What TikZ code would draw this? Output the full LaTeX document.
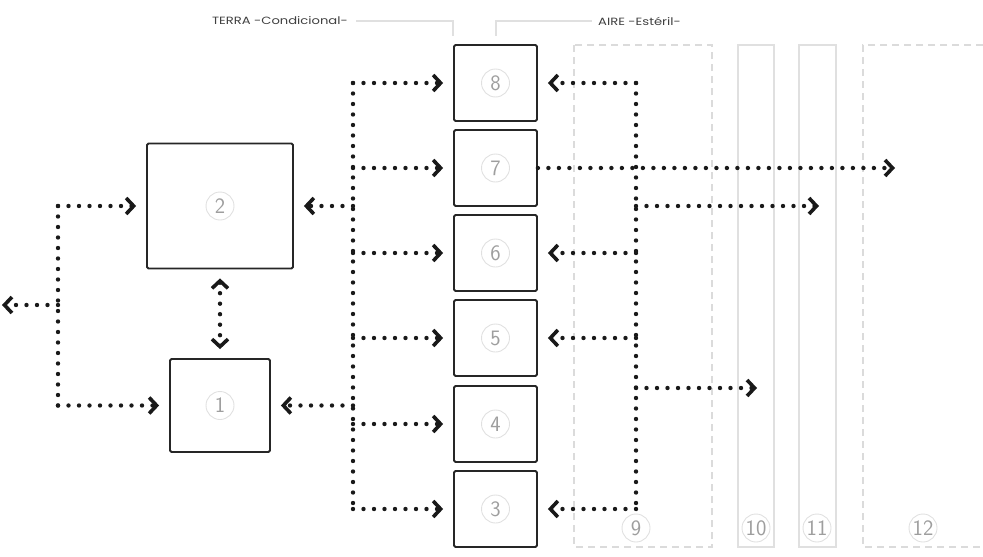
\documentclass[tikz,border=0pt]{standalone}
\usepackage{fontspec}
\usetikzlibrary{arrows.meta}
\newfontfamily\labfont{Poppins}[FakeStretch=1.25]
\tikzset{
  box/.style={draw=black!85, line width=1.8pt, rounded corners=1.5pt, inner sep=0pt},
  numc/.style={circle, draw=black!12, line width=0.9pt, text=black!38, minimum size=28pt, inner sep=0pt, font=\sffamily\fontsize{22}{22}\selectfont},
  dots/.style={line width=4.4pt, line cap=round, dash pattern=on 0pt off 10.5pt, black!90},
  tip/.tip={Straight Barb[length=7.5pt,width=16pt,line width=3.6pt]},
  arr/.style={dots, -tip, shorten >=10pt},
  darr/.style={dots, tip-tip, shorten >=9pt, shorten <=9pt},
  zone/.style={draw=black!14, line width=1.2pt, dash pattern=on 7pt off 5pt},
  slim/.style={draw=black!12, line width=1.2pt},
  toplab/.style={text=black!75, inner sep=0pt, font=\labfont\fontsize{10.5}{10.5}\selectfont}
}
\begin{document}
\begin{tikzpicture}[x=1pt,y=-1pt]
\useasboundingbox (0,0) rectangle (983,557);
% zones
\draw[zone] (574,45) rectangle (712,547);
\draw[slim] (738,45) rectangle (774,547);
\draw[slim] (799,45) rectangle (836,547);
\draw[zone] (995,45) -- (863,45) -- (863,547) -- (995,547);
\node[numc] (n9) at (636,528) {9};
\node[numc] (n10) at (756,528) {10};
\node[numc] (n11) at (817,528) {11};
\node[numc] (n12) at (923,528) {12};
% boxes
\node[box, minimum width=83pt, minimum height=76pt] (b8) at (495.5,83) {};
\node[box, minimum width=83pt, minimum height=76pt] (b7) at (495.5,168) {};
\node[box, minimum width=83pt, minimum height=76pt] (b6) at (495.5,253) {};
\node[box, minimum width=83pt, minimum height=76pt] (b5) at (495.5,338) {};
\node[box, minimum width=83pt, minimum height=76pt] (b4) at (495.5,424) {};
\node[box, minimum width=83pt, minimum height=76pt] (b3) at (495.5,509) {};
\node[box, minimum width=146pt, minimum height=125pt] (b2) at (220,206) {};
\node[box, minimum width=100pt, minimum height=93pt] (b1) at (220,405.5) {};
\foreach \b/\t in {b8/8,b7/7,b6/6,b5/5,b4/4,b3/3,b2/2,b1/1}
  \node[numc] (c\t) at (\b) {\t};
% top labels
\node[toplab, anchor=east] (terra) at (348,21) {TERRA -Condicional-};
\node[toplab, anchor=west] (aire) at (598,21) {AIRE -Estéril-};
\coordinate (t1) at (453,36);
\coordinate (t2) at (496,36);
\draw[slim, shorten <=8pt] (terra.east) -| (t1);
\draw[slim, shorten <=6pt] (aire.west) -| (t2);
% guide coordinates
\coordinate (lx) at (58,0);
\coordinate (mx) at (353,0);
\coordinate (rx) at (636,0);
% left tree
\draw[dots] (b2.west -| lx) -- (b1.west -| lx);
\draw[arr] (b2.west -| lx) -- (b2.west);
\draw[arr] (b1.west -| lx) -- (b1.west);
\coordinate (lm) at (58,305);
\coordinate (le) at (2,305);
\draw[arr, shorten >=0pt] (lm) -- (le);
\draw[darr] (b2.south) -- (b1.north);
% middle tree
\draw[dots] (b8.west -| mx) -- (b3.west -| mx);
\foreach \b in {b8,b7,b6,b5,b4,b3}
  \draw[arr] (\b.west -| mx) -- (\b.west);
\draw[arr] (b2.east -| mx) -- (b2.east);
\draw[arr] (b1.east -| mx) -- (b1.east);
% right tree
\draw[dots] (b8.east -| rx) -- (b3.east -| rx);
\foreach \b in {b8,b6,b5,b3}
  \draw[arr] (\b.east -| rx) -- (\b.east);
\coordinate (e7) at (895,168);
\draw[arr, shorten >=0pt] (b7.east) -- (e7);
\coordinate (s11) at (636,206);
\coordinate (e11) at (819,206);
\draw[arr, shorten >=0pt] (s11) -- (e11);
\coordinate (s10) at (636,388);
\coordinate (e10) at (757,388);
\draw[arr, shorten >=0pt] (s10) -- (e10);
\end{tikzpicture}
\end{document}
